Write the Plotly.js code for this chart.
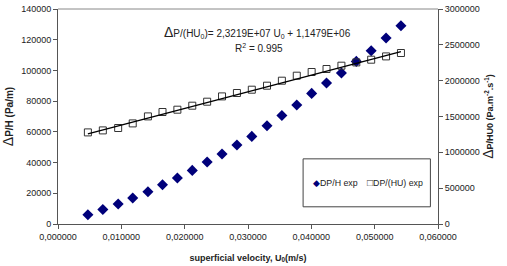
<!DOCTYPE html>
<html>
<head>
<meta charset="utf-8">
<script src="https://cdn.plot.ly/plotly-3.0.1.min.js"></script>
<style>
  html, body { margin: 0; padding: 0; background: #fff; }
  #chart { width: 507px; height: 266px; }
</style>
</head>
<body>
<div id="chart"></div>
<script>
// superficial velocity U0 (m/s)
const u0 = [0.00472, 0.00708, 0.00950, 0.01180, 0.01420, 0.01650, 0.01885, 0.02120,
            0.02355, 0.02590, 0.02825, 0.03060, 0.03300, 0.03535, 0.03770, 0.04005,
            0.04240, 0.04475, 0.04710, 0.04945, 0.05180, 0.05415];
// pressure drop per unit height, DP/H (Pa/m)
const dpH = [6050, 9500, 13020, 16930, 21030, 25590, 29950, 34900, 40370, 45580, 51440,
             57040, 64010, 70710, 77490, 85050, 91810, 98330, 105880, 112850, 121120, 129130];
// DP/(H U0) (Pa.m-2.s-1)
const dpHU = [1278100, 1306000, 1339500, 1403700, 1501400, 1562800, 1594900, 1650700,
              1706500, 1780500, 1827900, 1873900, 1929800, 1999500, 2069300, 2120900,
              2162800, 2208800, 2254900, 2292600, 2338600, 2386000];
// linear fit of DP/(HU0) against U0
const fitSlope = 2.3219e7;
const fitIntercept = 1.1479e6;
const fitR2 = 0.995;
// legend entries
const seriesNames = ['DP/H exp', 'DP/(HU) exp'];

const fitX = [u0[0], u0[u0.length - 1]];
const fitY = fitX.map(u => fitSlope * u + fitIntercept);

const FONT = 'Liberation Sans, Arial, sans-serif';
const DIAMOND_COLOR = '#00007a';
const SQUARE_COLOR = '#333333';

const traces = [
  {
    x: u0, y: dpH, name: seriesNames[0], type: 'scatter', mode: 'markers',
    marker: { symbol: 'diamond', size: 8.5, color: DIAMOND_COLOR },
    xaxis: 'x', yaxis: 'y', showlegend: false
  },
  {
    x: u0, y: dpHU, name: seriesNames[1], type: 'scatter', mode: 'markers',
    marker: { symbol: 'square-open', size: 7, color: SQUARE_COLOR, line: { width: 1 } },
    xaxis: 'x', yaxis: 'y2', showlegend: false
  },
  {
    x: fitX, y: fitY, type: 'scatter', mode: 'lines', showlegend: false,
    line: { color: '#000000', width: 1.5 },
    xaxis: 'x', yaxis: 'y2', hoverinfo: 'skip'
  }
];

const titleFont = { family: FONT, size: 10, color: '#222' };
const tickFont = { family: FONT, size: 9, color: '#222' };

const layout = {
  width: 507, height: 266,
  margin: { l: 58, r: 69, t: 9, b: 42 },
  paper_bgcolor: '#ffffff', plot_bgcolor: '#ffffff',
  separators: ',.',
  font: { family: FONT, size: 9, color: '#222' },
  showlegend: false,
  xaxis: {
    range: [0, 0.06], dtick: 0.01, tickformat: '.6f',
    showgrid: false, zeroline: false, showline: true, linecolor: '#555', linewidth: 1,
    ticks: 'outside', ticklen: 4, tickcolor: '#555',
    tickfont: tickFont,
    title: { text: '<b>superficial velocity, U<sub>0</sub>(m/s)</b>', font: { family: FONT, size: 9, color: '#222' }, standoff: 13 }
  },
  yaxis: {
    range: [0, 140000], dtick: 20000, tickformat: 'd',
    showgrid: false, zeroline: false, showline: true, linecolor: '#555', linewidth: 1,
    ticks: 'outside', ticklen: 4, tickcolor: '#555',
    tickfont: tickFont,
    title: { text: '<span style="font-size:14px">Δ</span><b>P/H (Pa/m)</b>', font: titleFont, standoff: 6 }
  },
  yaxis2: {
    range: [0, 3000000], dtick: 500000, tickformat: 'd',
    overlaying: 'y', side: 'right',
    showgrid: false, zeroline: false, showline: true, linecolor: '#555', linewidth: 1,
    ticks: 'outside', ticklen: 4, tickcolor: '#555',
    tickfont: tickFont,
    title: { text: '<span style="font-size:14px">Δ</span><b>P/HU0 (Pa.m<sup>-2</sup>.s<sup>-1</sup>)</b>', font: { family: FONT, size: 9, color: '#222' }, standoff: 6 }
  },
  shapes: [
    // top border of plot frame
    { type: 'line', xref: 'paper', yref: 'paper', x0: 0, x1: 1, y0: 1, y1: 1, line: { color: '#888', width: 1 } },
    // legend frame
    { type: 'rect', xref: 'paper', yref: 'paper', x0: 0.645, x1: 0.98, y0: 0.08, y1: 0.303,
      line: { color: '#444', width: 1 }, fillcolor: 'rgba(0,0,0,0)' }
  ],
  annotations: [
    {
      xref: 'paper', yref: 'paper', x: 0.526, y: 0.895, xanchor: 'center', yanchor: 'middle', showarrow: false,
      text: '<span style="font-size:14px">Δ</span>P/(HU<sub>0</sub>)= ' + '2,3219E+07' + ' U<sub>0</sub> + ' + '1,1479E+06',
      font: { family: FONT, size: 10, color: '#222' }
    },
    {
      xref: 'paper', yref: 'paper', x: 0.53, y: 0.82, xanchor: 'center', yanchor: 'middle', showarrow: false,
      text: 'R<sup>2</sup> = ' + String(fitR2),
      font: { family: FONT, size: 10, color: '#222' }
    },
    // legend entries
    {
      xref: 'paper', yref: 'paper', x: 0.665, y: 0.192, xanchor: 'left', yanchor: 'middle', showarrow: false,
      text: '<span style="color:' + DIAMOND_COLOR + ';font-size:9px">◆</span>' + seriesNames[0],
      font: { family: FONT, size: 8.8, color: '#222' }
    },
    {
      xref: 'paper', yref: 'paper', x: 0.808, y: 0.192, xanchor: 'left', yanchor: 'middle', showarrow: false,
      text: '<span style="color:' + SQUARE_COLOR + ';font-size:10px">□</span>' + seriesNames[1],
      font: { family: FONT, size: 8.8, color: '#222' }
    }
  ]
};

Plotly.newPlot('chart', traces, layout, { staticPlot: true, displayModeBar: false });
</script>
</body>
</html>
